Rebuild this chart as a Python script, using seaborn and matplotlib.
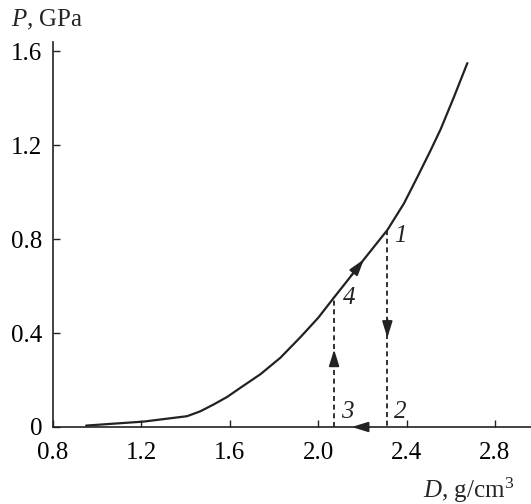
import matplotlib
matplotlib.use("Agg")
import matplotlib.pyplot as plt
import seaborn as sns
import pandas as pd

# Compression curve P(D)
density = [0.950, 1.210, 1.407, 1.467, 1.527, 1.588, 1.648, 1.739, 1.829, 1.920,
           2.000, 2.072, 2.131, 2.207, 2.313, 2.388, 2.449, 2.509, 2.554, 2.614,
           2.675]
pressure = [0.006, 0.023, 0.046, 0.067, 0.096, 0.128, 0.167, 0.225, 0.295, 0.383,
            0.465, 0.552, 0.622, 0.714, 0.839, 0.952, 1.065, 1.179, 1.268, 1.405,
            1.550]

# Cycle points 1-4
cycle_labels = ["1", "2", "3", "4"]
cycle_d = [2.313, 2.313, 2.072, 2.072]
cycle_p = [0.839, 0.0, 0.0, 0.552]

x_ticks = [0.8, 1.2, 1.6, 2.0, 2.4, 2.8]
x_tick_labels = ["0.8", "1.2", "1.6", "2.0", "2.4", "2.8"]
y_ticks = [0, 0.4, 0.8, 1.2, 1.6]
y_tick_labels = ["0", "0.4", "0.8", "1.2", "1.6"]

sns.set_style("ticks")
plt.rcParams["font.family"] = ["Liberation Serif", "DejaVu Serif"]
plt.rcParams["mathtext.fontset"] = "custom"
plt.rcParams["mathtext.rm"] = "Liberation Serif"
plt.rcParams["mathtext.it"] = "Liberation Serif:italic"

ink = "#222222"
fs = 18
fig = plt.figure(figsize=(5.31, 5.04), dpi=100)
ax = fig.add_axes([0.0998, 0.1528, 0.9002, 0.7639])

curve = pd.DataFrame({"D": density, "P": pressure})
sns.lineplot(data=curve, x="D", y="P", ax=ax, color=ink, lw=1.6, sort=False)

# dashed verticals 1->2 and 3->4
dash = (0, (2.8, 2.0))
ax.plot([cycle_d[0], cycle_d[1]], [cycle_p[0], cycle_p[1]], color=ink, lw=1.3, ls=dash)
ax.plot([cycle_d[2], cycle_d[3]], [cycle_p[2], cycle_p[3]], color=ink, lw=1.3, ls=dash)

arrow_kw = dict(arrowstyle="-|>,head_length=0.9,head_width=0.28", color=ink,
                lw=1.3, mutation_scale=11, shrinkA=0, shrinkB=0)
# along the curve
ax.annotate("", xy=(2.207, 0.714), xytext=(2.15, 0.645), arrowprops=arrow_kw)
# 1 -> 2 downward
ax.annotate("", xy=(2.313, 0.38), xytext=(2.313, 0.46), arrowprops=arrow_kw)
# 2 -> 3 along the axis
ax.annotate("", xy=(2.152, 0.0), xytext=(2.23, 0.0), arrowprops=arrow_kw)
# 3 -> 4 upward
ax.annotate("", xy=(2.072, 0.33), xytext=(2.072, 0.26), arrowprops=arrow_kw)

label_pos = [(2.345, 0.815), (2.345, 0.065), (2.105, 0.065), (2.11, 0.548)]
for lab, (lx, ly) in zip(cycle_labels, label_pos):
    ax.text(lx, ly, lab, fontsize=fs, style="italic", color=ink,
            ha="left", va="center")

ax.set_xlim(0.8, 2.963)
ax.set_ylim(0, 1.64)
ax.set_xticks(x_ticks)
ax.set_xticklabels(x_tick_labels)
ax.set_yticks(y_ticks)
ax.set_yticklabels(y_tick_labels)
ax.tick_params(axis="both", direction="in", length=5, width=1.0, colors=ink,
               labelsize=fs, labelcolor="black")
ax.tick_params(axis="x", pad=11)
ax.tick_params(axis="y", pad=7.5)
ax.set_xlabel("")
ax.set_ylabel("")
for side in ("top", "right"):
    ax.spines[side].set_visible(False)
for side in ("left", "bottom"):
    ax.spines[side].set_color(ink)
    ax.spines[side].set_linewidth(1.2)

fig.text(0.02, 0.96, "$P$, GPa", fontsize=fs, ha="left", va="center")
fig.text(0.968, 0.028, "$D$, g/cm$^3$", fontsize=fs, ha="right", va="center")

fig.savefig("out.png", dpi=100)
